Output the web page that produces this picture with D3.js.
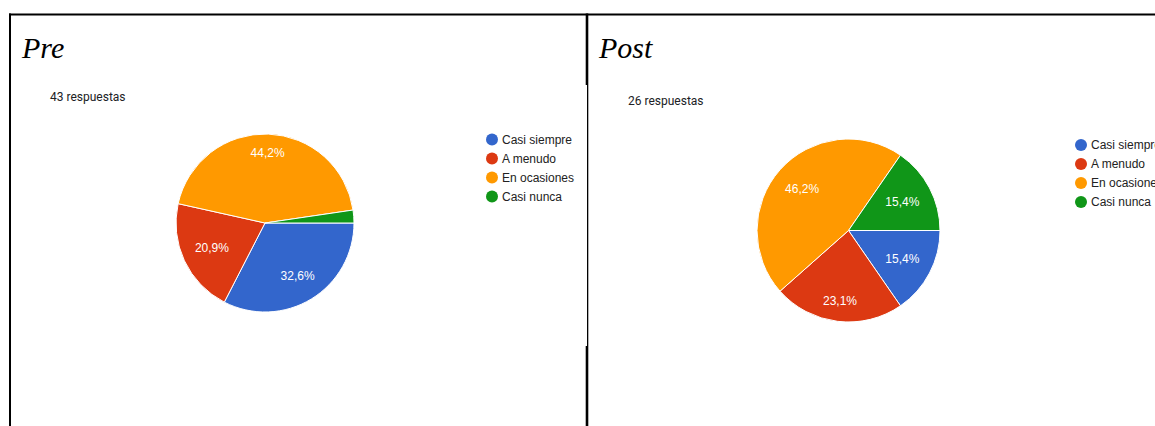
<!DOCTYPE html>
<html>
<head>
<meta charset="utf-8">
<script src="https://cdn.jsdelivr.net/npm/d3@7"></script>
<style>
  html, body { margin: 0; padding: 0; background: #fff; }
  svg { display: block; }
</style>
</head>
<body>
<svg id="chart" width="1155" height="426"></svg>
<script>
// Survey answer categories (legend order = slice order, clockwise from 3 o'clock)
const categories = ["Casi siempre", "A menudo", "En ocasiones", "Casi nunca"];
const colors = ["#3366cc", "#dc3912", "#ff9900", "#109618"];

// Response counts per category
const preCounts = [14, 9, 19, 1];   // 43 respuestas
const postCounts = [4, 6, 12, 4];   // 26 respuestas

const panels = [
  { title: "Pre",  counts: preCounts,  titleX: 22,  titleY: 58, subX: 50,  subY: 101,
    cx: 265, cy: 223, r: 89,   legX: 492,  legY: 139.5 },
  { title: "Post", counts: postCounts, titleX: 599, titleY: 58, subX: 628, subY: 105,
    cx: 848.5, cy: 230.5, r: 91.5, legX: 1081, legY: 145 }
];

const svg = d3.select("#chart");
const W = 1155, H = 426;

svg.append("defs").append("clipPath").attr("id", "page")
  .append("rect").attr("x", 0).attr("y", 0).attr("width", W).attr("height", H);

const fmt = v => d3.format(".1f")(v).replace(".", ",") + "%";

panels.forEach(p => {
  const total = d3.sum(p.counts);
  const data = categories.map((c, i) => ({ cat: c, value: p.counts[i], color: colors[i] }));

  const pie = d3.pie().value(d => d.value).sort(null)
    .startAngle(Math.PI / 2).endAngle(Math.PI / 2 + 2 * Math.PI);
  const arc = d3.arc().innerRadius(0).outerRadius(p.r);
  const arcs = pie(data);

  const g = svg.append("g").attr("clip-path", "url(#page)");

  // Title
  g.append("text").attr("x", p.titleX).attr("y", p.titleY)
    .attr("font-family", "'Liberation Serif', 'Times New Roman', serif")
    .attr("font-style", "italic").attr("font-size", 30).attr("fill", "#000")
    .text(p.title);

  // Response count
  g.append("text").attr("x", p.subX).attr("y", p.subY)
    .attr("font-family", "Roboto, Arial, sans-serif")
    .attr("font-size", 12).attr("fill", "#202124")
    .text(total + " respuestas");

  const pg = g.append("g").attr("transform", `translate(${p.cx},${p.cy})`);

  pg.selectAll("path").data(arcs).join("path")
    .attr("d", arc).attr("fill", d => d.data.color)
    .attr("stroke", "#fff").attr("stroke-width", 1);

  // Percentage labels, placed so the text box sits just inside the rim
  const hw = 17, hh = 6;
  pg.selectAll("text.pct").data(arcs.filter(d => d.value / total >= 0.05)).join("text")
    .attr("class", "pct")
    .each(function (d) {
      const a = (d.startAngle + d.endAngle) / 2;
      const dx = Math.sin(a), dy = -Math.cos(a);
      const ext = Math.abs(dx) * hw + Math.abs(dy) * hh;
      const dist = 0.86 * p.r - ext;
      d3.select(this).attr("x", dx * dist).attr("y", dy * dist);
    })
    .attr("text-anchor", "middle").attr("dominant-baseline", "central")
    .attr("font-family", "'Liberation Sans', Arial, sans-serif")
    .attr("font-size", 12).attr("fill", "#fff")
    .text(d => fmt(d.value / total * 100));

  // Legend
  const leg = g.append("g").selectAll("g").data(data).join("g")
    .attr("transform", (d, i) => `translate(${p.legX},${p.legY + i * 19})`);
  leg.append("circle").attr("r", 6).attr("fill", d => d.color);
  leg.append("text").attr("x", 10).attr("y", 0).attr("dominant-baseline", "central")
    .attr("font-family", "'Liberation Sans', Arial, sans-serif")
    .attr("font-size", 12).attr("fill", "#222")
    .text(d => d.cat);
});

// Panel borders
const border = svg.append("g").attr("fill", "#000");
border.append("rect").attr("x", 9).attr("y", 13.5).attr("width", W - 9).attr("height", 2);
border.append("rect").attr("x", 9).attr("y", 13.5).attr("width", 2).attr("height", H - 13.5);
border.append("rect").attr("x", 587).attr("y", 13.5).attr("width", 1.3).attr("height", H - 13.5);
border.append("rect").attr("x", 585.7).attr("y", 13.5).attr("width", 1.5).attr("height", 71.5);
border.append("rect").attr("x", 585.7).attr("y", 346).attr("width", 1.5).attr("height", H - 346);
</script>
</body>
</html>
